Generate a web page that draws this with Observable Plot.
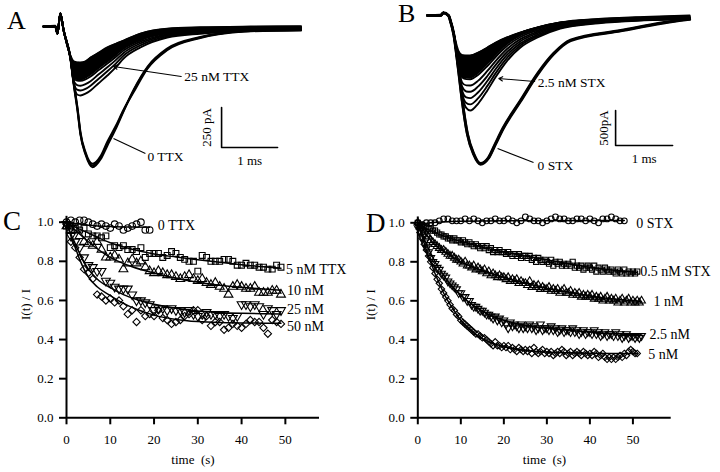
<!DOCTYPE html>
<html><head><meta charset="utf-8">
<script src="https://cdn.jsdelivr.net/npm/d3@7"></script>
<script src="https://cdn.jsdelivr.net/npm/@observablehq/plot@0.6"></script>
<style>
html,body{margin:0;padding:0;background:#fff;}
#fig{position:relative;width:720px;height:472px;overflow:hidden;background:#fff;font-family:"Liberation Serif","Times New Roman",Times,serif;color:#000;}
.pane{position:absolute;}
.letter{position:absolute;font-size:26px;line-height:1;}
</style></head><body><div id="fig"></div>
<script>
// ---------- Panel A: currents (ms, pA) ----------
const tA0 = [0,0.21,0.25,0.30,0.36,0.48,0.54,0.61,0.66,0.75,0.875,1.02,1.14,1.29,1.43,1.61,1.86,2.2,2.8,3.7,4.6];
const ttx0Traces = [
  [0,0,-44,81,-25,-194,-356,-525,-669,-794,-869,-819,-731,-631,-525,-400,-256,-145,-69,-25,-12],
  [0,4,-40,78,-22,-200,-365,-535,-675,-800,-880,-830,-745,-640,-530,-395,-250,-140,-66,-24,-10],
  [0,-3,-46,84,-28,-190,-350,-515,-660,-785,-858,-810,-720,-622,-520,-410,-262,-150,-72,-28,-14]
];
const tA25 = [0,0.21,0.25,0.30,0.36,0.48,0.54,0.6,0.66,0.75,0.84,0.98,1.14,1.29,1.43,1.73,2.21,2.8,3.7,4.6];
const ttx25Traces = [
  [0,0,-44,81,-25,-194,-356,-425,-431,-420,-400,-356,-306,-256,-200,-131,-69,-45,-30,-25],
  [0,3,-42,80,-24,-194,-350,-395,-400,-390,-370,-328,-280,-232,-182,-118,-62,-40,-27,-22],
  [0,-2,-45,82,-26,-194,-340,-366,-370,-360,-342,-300,-255,-210,-165,-106,-55,-36,-24,-19],
  [0,2,-43,79,-25,-194,-325,-338,-340,-331,-313,-274,-232,-190,-150,-95,-49,-32,-21,-16],
  [0,-3,-44,83,-27,-194,-300,-308,-310,-302,-284,-248,-210,-172,-135,-85,-43,-28,-18,-13],
  [0,1,-41,80,-24,-190,-272,-279,-280,-272,-256,-222,-188,-153,-120,-75,-37,-24,-15,-10],
  [0,-1,-45,81,-25,-185,-243,-249,-250,-243,-228,-197,-165,-134,-104,-64,-31,-19,-11,-6],
  [0,2,-44,82,-26,-180,-218,-224,-225,-218,-194,-165,-131,-108,-88,-44,-13,-5,0,2]
];
const barA = {t: 3.18, i: -756, dt: 1, di: 250, tLabel: "1 ms", iLabel: "250 pA"};
const notesA = [
  {text: "25 nM TTX", t1: 2.46, i1: -312, t2: 1.25, i2: -250, head: true, dx: 3, dy: 0},
  {text: "0 TTX", t1: 1.82, i1: -794, t2: 1.25, i2: -700, head: false, dx: 2, dy: 3}
];

// ---------- Panel B ----------
const tB0 = [0,0.23,0.28,0.37,0.40,0.46,0.54,0.61,0.70,0.81,0.93,1.07,1.19,1.33,1.63,1.93,2.21,2.51,3.39,4.49,4.6];
const stx0Traces = [
  [0,0,40,0,-70,-260,-740,-1214,-1686,-1971,-2114,-2029,-1829,-1600,-1214,-829,-543,-350,-214,-60,-50],
  [0,5,35,-5,-75,-270,-760,-1230,-1700,-1985,-2125,-2040,-1845,-1615,-1230,-845,-555,-360,-220,-65,-55]
];
const tB25 = [0,0.23,0.28,0.37,0.40,0.46,0.54,0.61,0.68,0.75,0.89,1.05,1.19,1.40,1.63,1.93,2.33,3.0,3.8,4.6];
const stx25Traces = [
  [0,0,40,0,-70,-260,-740,-1150,-1320,-1357,-1257,-1071,-886,-643,-457,-314,-186,-110,-70,-50],
  [0,0,40,0,-70,-260,-740,-1120,-1250,-1270,-1180,-1005,-830,-602,-428,-294,-175,-103,-65,-46],
  [0,0,40,0,-70,-260,-740,-1080,-1170,-1180,-1096,-935,-772,-560,-398,-274,-163,-96,-60,-42],
  [0,0,40,0,-70,-260,-730,-1020,-1085,-1090,-1012,-864,-713,-518,-368,-253,-151,-89,-55,-38],
  [0,0,40,0,-70,-260,-720,-960,-998,-1000,-930,-792,-655,-475,-338,-232,-139,-82,-50,-34],
  [0,0,40,0,-70,-260,-700,-885,-908,-910,-846,-722,-596,-432,-307,-211,-126,-74,-45,-30],
  [0,0,40,0,-70,-260,-670,-805,-818,-820,-762,-650,-537,-390,-277,-190,-114,-67,-40,-26],
  [0,0,40,0,-70,-260,-630,-730,-738,-740,-688,-586,-484,-352,-250,-172,-103,-60,-35,-22],
  [0,0,40,0,-70,-260,-580,-643,-650,-650,-604,-515,-425,-332,-246,-171,-100,-55,-28,-12],
  [0,0,40,0,-70,-260,-500,-565,-571,-571,-530,-457,-390,-310,-243,-171,-100,-50,-20,0]
];
const barB = {t: 3.3, i: -1857, dt: 1, di: 500, tLabel: "1 ms", iLabel: "500pA"};
const notesB = [
  {text: "2.5 nM STX", t1: 1.88, i1: -943, t2: 1.25, i2: -900, head: true, dx: 3, dy: 1},
  {text: "0 STX", t1: 1.86, i1: -2100, t2: 1.23, i2: -1900, head: false, dx: 4, dy: 3}
];

// ---------- Panel C: I(t)/I vs time (s), TTX ----------
const tC = [0,1,2,3,4,5,6,7,8,9,10,11,12,13,14,15,16,17,18,19,20,21,22,23,24,25,26,27,28,29,30,31,32,33,34,35,36,37,38,39,40,41,42,43,44,45,46,47,48,49];
const c0TTX = [1.0,1.01,1.0,1.01,1.01,1.0,0.99,0.98,0.99,0.98,0.97,0.99,0.98,0.96,0.97,0.98,0.99,1.0,0.96,0.96];
const c5nM = [0.98,0.98,0.97,0.96,0.97,0.94,0.93,0.93,0.92,0.93,0.87,0.88,0.87,0.88,0.86,0.86,0.85,0.87,0.82,0.84,0.84,0.84,0.82,0.83,0.85,0.84,0.82,0.81,0.80,0.80,0.75,0.83,0.82,0.80,0.80,0.80,0.81,0.81,0.80,0.78,0.78,0.79,0.78,0.78,0.77,0.77,0.76,0.76,0.78,0.77];
const c10nM = [0.98,0.96,0.96,0.93,0.90,0.89,0.88,0.90,0.86,0.82,0.82,0.83,0.81,0.76,0.79,0.81,0.79,0.80,0.77,0.75,0.74,0.75,0.74,0.73,0.73,0.72,0.71,0.72,0.73,0.71,0.70,0.71,0.69,0.68,0.69,0.67,0.66,0.63,0.67,0.68,0.67,0.66,0.66,0.67,0.64,0.64,0.64,0.65,0.65,0.63];
const c25nM = [0.99,0.93,0.90,0.87,0.82,0.78,0.77,0.75,0.75,0.70,0.69,0.67,0.66,0.66,0.66,0.63,0.60,0.60,0.59,0.58,0.55,0.56,0.56,0.55,0.56,0.55,0.55,0.54,0.55,0.53,0.52,0.53,0.54,0.53,0.53,0.52,0.53,0.52,0.51,0.52,0.58,0.58,0.57,0.58,0.57,0.53,0.56,0.55,0.53,0.55];
const c50nM = [0.99,0.90,0.87,0.82,0.76,0.74,0.71,0.63,0.62,0.60,0.61,0.59,0.60,0.57,0.53,0.55,0.49,0.55,0.52,0.53,0.52,0.55,0.51,0.50,0.48,0.49,0.50,0.52,0.53,0.55,0.55,0.50,0.52,0.47,0.49,0.49,0.45,0.46,0.48,0.47,0.46,0.48,0.50,0.49,0.49,0.46,0.43,0.50,0.49,0.48];
const fitC0T = [0,5,10,15,19], fitC0V = [1.0,0.985,0.978,0.975,0.974];
const fitCaT = [0,2,5,10,15,20,25,30,35,40,45,49];
const fitC5V = [1.0,0.975,0.945,0.895,0.862,0.838,0.822,0.808,0.795,0.783,0.772,0.765];
const fitC10V = [1.0,0.96,0.9,0.82,0.772,0.74,0.713,0.693,0.678,0.667,0.658,0.652];
const fitCbT = [0,1,2,3,5,7,10,13,16,20,25,30,35,40,45,49];
const fitC25V = [1.0,0.94,0.89,0.84,0.76,0.71,0.665,0.63,0.605,0.58,0.56,0.546,0.538,0.534,0.532,0.531];
const fitC50V = [1.0,0.93,0.87,0.81,0.72,0.67,0.625,0.585,0.555,0.525,0.503,0.492,0.487,0.485,0.484,0.484];
const labelsC = ["0 TTX","5 nM TTX","10 nM","25 nM","50 nM"];

// ---------- Panel D: STX ----------
const tD = [0,0.5,1,1.5,2,2.5,3,3.5,4,4.5,5,5.5,6,6.5,7,7.5,8,8.5,9,9.5,10,10.5,11,11.5,12,12.5,13,13.5,14,14.5,15,15.5,16,16.5,17,17.5,18,18.5,19,19.5,20,20.5,21,21.5,22,22.5,23,23.5,24,24.5,25,25.5,26,26.5,27,27.5,28,28.5,29,29.5,30,30.5,31,31.5,32,32.5,33,33.5,34,34.5,35,35.5,36,36.5,37,37.5,38,38.5,39,39.5,40,40.5,41,41.5,42,42.5,43,43.5,44,44.5,45,45.5,46,46.5,47,47.5,48,48.5,49,49.5,50,50.5,51,51.5,52];
const d0STX = [1.00,0.99,1.00,1.00,1.00,1.01,1.02,1.02,1.01,1.01,1.01,1.02,1.01,1.02,1.01,1.00,1.01,1.01,1.02,1.01,1.01,1.02,1.01,1.00,1.01,1.03,1.02,1.01,1.01,1.00,1.01,1.02,1.03,1.02,1.02,1.01,1.01,1.02,1.02,1.01,1.02,1.01,1.00,1.02,1.02,1.03,1.02,1.01,1.01];
const d05nM = [1.0,0.99,0.99,0.98,0.98,0.97,0.97,0.96,0.96,0.95,
  0.94,0.94,0.93,0.93,0.92,0.92,0.91,0.92,0.91,0.91,
  0.90,0.91,0.90,0.89,0.90,0.89,0.88,0.89,0.88,0.87,
  0.88,0.87,0.88,0.86,0.87,0.85,0.86,0.85,0.86,0.85,
  0.85,0.84,0.85,0.84,0.83,0.84,0.83,0.84,0.82,0.83,
  0.83,0.82,0.83,0.81,0.82,0.80,0.82,0.81,0.80,0.81,
  0.80,0.79,0.81,0.78,0.80,0.79,0.80,0.78,0.79,0.78,
  0.79,0.78,0.80,0.77,0.78,0.77,0.78,0.76,0.77,0.78,
  0.77,0.76,0.78,0.75,0.77,0.76,0.75,0.77,0.76,0.75,
  0.76,0.75,0.74,0.76,0.75,0.74,0.76,0.74,0.75,0.74,
  0.75,0.74,0.75];
const d1nM = [1.0,0.98,0.97,0.96,0.94,0.93,0.91,0.90,0.89,0.88,
  0.87,0.86,0.86,0.85,0.84,0.83,0.83,0.82,0.81,0.81,
  0.80,0.79,0.80,0.78,0.78,0.77,0.78,0.76,0.77,0.76,
  0.75,0.76,0.74,0.75,0.73,0.74,0.73,0.72,0.73,0.72,
  0.72,0.71,0.72,0.70,0.71,0.70,0.71,0.69,0.70,0.69,
  0.69,0.68,0.70,0.67,0.68,0.67,0.68,0.66,0.67,0.66,
  0.66,0.67,0.65,0.66,0.65,0.66,0.64,0.65,0.66,0.64,
  0.64,0.65,0.63,0.64,0.63,0.64,0.62,0.63,0.62,0.63,
  0.62,0.63,0.61,0.62,0.61,0.62,0.60,0.61,0.62,0.60,
  0.61,0.60,0.61,0.59,0.60,0.61,0.59,0.60,0.61,0.59,
  0.60,0.59,0.60,0.59,0.60];
const d25nM = [0.99,0.96,0.93,0.90,0.87,0.85,0.82,0.80,0.79,0.77,
  0.76,0.74,0.73,0.72,0.70,0.69,0.68,0.67,0.66,0.64,
  0.64,0.62,0.62,0.60,0.60,0.58,0.57,0.57,0.56,0.55,
  0.55,0.54,0.53,0.53,0.52,0.51,0.52,0.50,0.51,0.49,
  0.50,0.48,0.46,0.49,0.47,0.48,0.47,0.46,0.48,0.46,
  0.47,0.46,0.48,0.46,0.47,0.45,0.46,0.48,0.45,0.46,
  0.46,0.45,0.47,0.45,0.46,0.44,0.45,0.46,0.44,0.45,
  0.45,0.44,0.46,0.44,0.45,0.43,0.44,0.45,0.43,0.44,
  0.44,0.43,0.45,0.43,0.44,0.42,0.43,0.44,0.42,0.43,
  0.43,0.42,0.44,0.42,0.43,0.41,0.42,0.43,0.41,0.42,
  0.42,0.41,0.42,0.41,0.42];
const d5nM = [0.98,0.95,0.92,0.89,0.86,0.83,0.80,0.77,0.74,0.71,
  0.69,0.66,0.64,0.62,0.60,0.58,0.56,0.55,0.53,0.52,
  0.50,0.49,0.48,0.47,0.46,0.45,0.44,0.43,0.43,0.42,
  0.41,0.41,0.40,0.39,0.38,0.37,0.39,0.37,0.37,0.36,
  0.37,0.36,0.37,0.35,0.36,0.35,0.34,0.36,0.35,0.34,
  0.35,0.34,0.35,0.33,0.36,0.34,0.33,0.34,0.35,0.33,
  0.34,0.33,0.34,0.32,0.33,0.34,0.33,0.35,0.34,0.32,
  0.33,0.34,0.32,0.33,0.34,0.33,0.32,0.34,0.33,0.32,
  0.33,0.32,0.34,0.33,0.31,0.32,0.33,0.31,0.30,0.31,
  0.30,0.31,0.30,0.31,0.32,0.31,0.33,0.32,0.34,0.35,
  0.34,0.33,0.33];
const fitD0T = [0,3,10,20,48], fitD0V = [0.99,1.0,1.008,1.011,1.012];
const fitD05T = [0,1,2,3,5,7,10,15,20,25,30,35,40,45,51];
const fitD05V = [1.0,0.985,0.97,0.96,0.94,0.925,0.905,0.875,0.85,0.83,0.81,0.79,0.772,0.758,0.745];
const fitD1T = [0,1,2,3,5,7,10,15,20,25,30,35,40,45,52];
const fitD1V = [1.0,0.97,0.94,0.91,0.87,0.84,0.80,0.755,0.72,0.69,0.665,0.645,0.625,0.61,0.597];
const fitD25T = [0,1,2,3,4,5,7,10,13,16,20,25,30,35,40,45,52];
const fitD25V = [1.0,0.94,0.89,0.845,0.80,0.765,0.70,0.63,0.575,0.535,0.50,0.475,0.46,0.45,0.44,0.432,0.425];
const fitD5T = [0,1,2,3,4,5,6,7,8,10,12,14,17,20,25,30,35,40,45,51];
const fitD5V = [1.0,0.93,0.86,0.8,0.74,0.69,0.64,0.6,0.565,0.5,0.455,0.42,0.385,0.365,0.345,0.337,0.333,0.331,0.33,0.33];
const labelsD = ["0 STX","0.5 nM STX","1 nM","2.5 nM","5 nM"];

const xTicks = [0,10,20,30,40,50];
const yTicks = [0,0.2,0.4,0.6,0.8,1.0];

// ---------- drawing ----------
const SERIF = "'Liberation Serif','Times New Roman',Times,serif";
const fig = document.getElementById("fig");
function place(el, left, top) {
  const d = document.createElement("div");
  d.className = "pane"; d.style.left = left + "px"; d.style.top = top + "px";
  d.appendChild(el); fig.appendChild(d);
}
function letter(txt, left, top, size) {
  const d = document.createElement("div");
  d.className = "letter"; d.textContent = txt;
  d.style.left = left + "px"; d.style.top = top + "px"; d.style.fontSize = size + "px";
  fig.appendChild(d);
}
const triangleDown = {
  draw(ctx, size) {
    const y = -Math.sqrt(size / (Math.sqrt(3) * 3));
    ctx.moveTo(0, -y * 2);
    ctx.lineTo(-Math.sqrt(3) * y, y);
    ctx.lineTo(Math.sqrt(3) * y, y);
    ctx.closePath();
  }
};

function tracePanel(cfg) {
  const marks = [];
  cfg.groups.forEach(g => {
    if (g.fillFrom != null) {
      // solid band between the shallowest traces (dense overlap in the recording)
      const hi = g.traces[g.traces.length - 1], lo = g.traces[g.fillFrom];
      const band = g.t.map((t, j) => ({t, a: hi[j], b: lo[j]}));
      marks.push(Plot.areaY(band, {x: "t", y1: "a", y2: "b", curve: "monotone-x", fill: "black"}));
    }
    const rows = [];
    g.traces.forEach((tr, k) => tr.forEach((v, j) => rows.push({t: g.t[j], i: v, k})));
    marks.push(Plot.line(rows, {x: "t", y: "i", z: "k", curve: "monotone-x", stroke: "black", strokeWidth: g.sw}));
  });
  const b = cfg.bar;
  marks.push(Plot.line([{t: b.t, i: b.i + b.di}, {t: b.t, i: b.i}, {t: b.t + b.dt, i: b.i}],
    {x: "t", y: "i", stroke: "black", strokeWidth: 1.6}));
  marks.push(Plot.text([b], {x: d => d.t + d.dt / 2, y: "i", text: "tLabel", dy: 13, fontSize: 13}));
  marks.push(Plot.text([b], {x: "t", y: d => d.i + d.di / 2, text: "iLabel", rotate: -90, dx: cfg.iLabelDx, fontSize: 13}));
  cfg.notes.forEach(n => {
    if (n.head) marks.push(Plot.arrow([n], {x1: "t1", y1: "i1", x2: "t2", y2: "i2", headLength: 6, strokeWidth: 1.1, stroke: "black", inset: 0}));
    else marks.push(Plot.link([n], {x1: "t1", y1: "i1", x2: "t2", y2: "i2", strokeWidth: 1.1, stroke: "black"}));
    marks.push(Plot.text([n], {x: "t1", y: "i1", text: "text", textAnchor: "start", dx: n.dx, dy: n.dy, fontSize: 13.5}));
  });
  return Plot.plot({
    width: 360, height: 180,
    marginLeft: cfg.ml, marginRight: cfg.mr, marginTop: 2, marginBottom: 0,
    x: {domain: [0, 5], axis: null},
    y: {domain: cfg.ydomain, axis: null},
    style: {fontFamily: SERIF, fontSize: "13px", background: "transparent", color: "black", overflow: "visible"},
    marks
  });
}

function scatterPanel(cfg) {
  const marks = [];
  marks.push(Plot.ruleX([0], {y1: 0, y2: 1.03, stroke: "black", strokeWidth: 2}));
  marks.push(Plot.ruleY([0], {x1: 0, x2: cfg.xmax, stroke: "black", strokeWidth: 2}));
  marks.push(Plot.axisX({ticks: xTicks, tickSize: 7, tickPadding: 10, strokeWidth: 2, fontSize: 13, label: null}));
  marks.push(Plot.axisY({ticks: yTicks, tickSize: 7, tickPadding: 6, strokeWidth: 2, fontSize: 13, label: null, tickFormat: d => d.toFixed(1)}));
  cfg.series.forEach(s => {
    const pts = s.v.map((v, j) => ({t: s.t[j], v}));
    marks.push(Plot.dot(pts, {x: "t", y: "v", symbol: s.symbol, r: cfg.r, stroke: "black", strokeWidth: 1.1, fill: "none"}));
    const fit = s.fitT.map((t, j) => ({t, v: s.fitV[j]}));
    marks.push(Plot.line(fit, {x: "t", y: "v", curve: "monotone-x", stroke: "black", strokeWidth: 1.5}));
    const last = fit[fit.length - 1];
    marks.push(Plot.text([last], {x: "t", y: "v", text: () => s.label, textAnchor: "start", dx: s.dx, dy: s.dy, fontSize: 14}));
  });
  marks.push(Plot.text(["time  (s)"], {frameAnchor: "bottom", text: d => d, dy: 45.7, fontSize: 13}));
  marks.push(Plot.text(["I(t) / I"], {frameAnchor: "left", text: d => d, rotate: -90, dx: cfg.ylabDx, fontSize: 13}));
  return Plot.plot({
    width: 360, height: 292,
    marginLeft: cfg.ml, marginRight: cfg.mr, marginTop: cfg.mt, marginBottom: 54.7,
    x: {domain: [0, cfg.xmax]},
    y: {domain: [0, 1]},
    style: {fontFamily: SERIF, fontSize: "13px", background: "transparent", color: "black", overflow: "visible"},
    marks
  });
}

place(tracePanel({
  ml: 43, mr: 37, ydomain: [-962.5, 150],
  groups: [{t: tA25, traces: ttx25Traces, sw: 1.9, fillFrom: 3}, {t: tA0, traces: ttx0Traces, sw: 2}],
  bar: barA, iLabelDx: -15, notes: notesA
}), 0, 0);

place(tracePanel({
  ml: 67, mr: 8, ydomain: [-2357, 186],
  groups: [{t: tB25, traces: stx25Traces, sw: 1.9, fillFrom: 5}, {t: tB0, traces: stx0Traces, sw: 2.8}],
  bar: barB, iLabelDx: -12, notes: notesB
}), 360, 0);

place(scatterPanel({
  ml: 66, mr: 41, mt: 41.7, xmax: 57.8, r: 3.3, ylabDx: -41,
  series: [
    {t: tC, v: c0TTX, symbol: "circle", fitT: fitC0T, fitV: fitC0V, label: labelsC[0], dx: 8, dy: -2},
    {t: tC, v: c5nM, symbol: "square", fitT: fitCaT, fitV: fitC5V, label: labelsC[1], dx: 5, dy: 1},
    {t: tC, v: c10nM, symbol: "triangle", fitT: fitCaT, fitV: fitC10V, label: labelsC[2], dx: 6, dy: 0},
    {t: tC, v: c25nM, symbol: triangleDown, fitT: fitCbT, fitV: fitC25V, label: labelsC[3], dx: 6, dy: -4},
    {t: tC, v: c50nM, symbol: "diamond2", fitT: fitCbT, fitV: fitC50V, label: labelsC[4], dx: 6, dy: 3}
  ]
}), 0, 180);

place(scatterPanel({
  ml: 57.3, mr: 49.3, mt: 42.3, xmax: 58.9, r: 2.9, ylabDx: -47,
  series: [
    {t: tC, v: d0STX, symbol: "circle", fitT: fitD0T, fitV: fitD0V, label: labelsD[0], dx: 12, dy: 3},
    {t: tD, v: d05nM, symbol: "square", fitT: fitD05T, fitV: fitD05V, label: labelsD[1], dx: 3, dy: -1},
    {t: tD, v: d1nM, symbol: "triangle", fitT: fitD1T, fitV: fitD1V, label: labelsD[2], dx: 12, dy: 0},
    {t: tD, v: d25nM, symbol: triangleDown, fitT: fitD25T, fitV: fitD25V, label: labelsD[3], dx: 8, dy: 0},
    {t: tD, v: d5nM, symbol: "diamond2", fitT: fitD5T, fitV: fitD5V, label: labelsD[4], dx: 11, dy: 1}
  ]
}), 360, 180);

letter("A", 7, 8, 26);
letter("B", 398, 1, 26);
letter("C", 3, 208, 27);
letter("D", 366, 210, 27);
</script></body></html>
